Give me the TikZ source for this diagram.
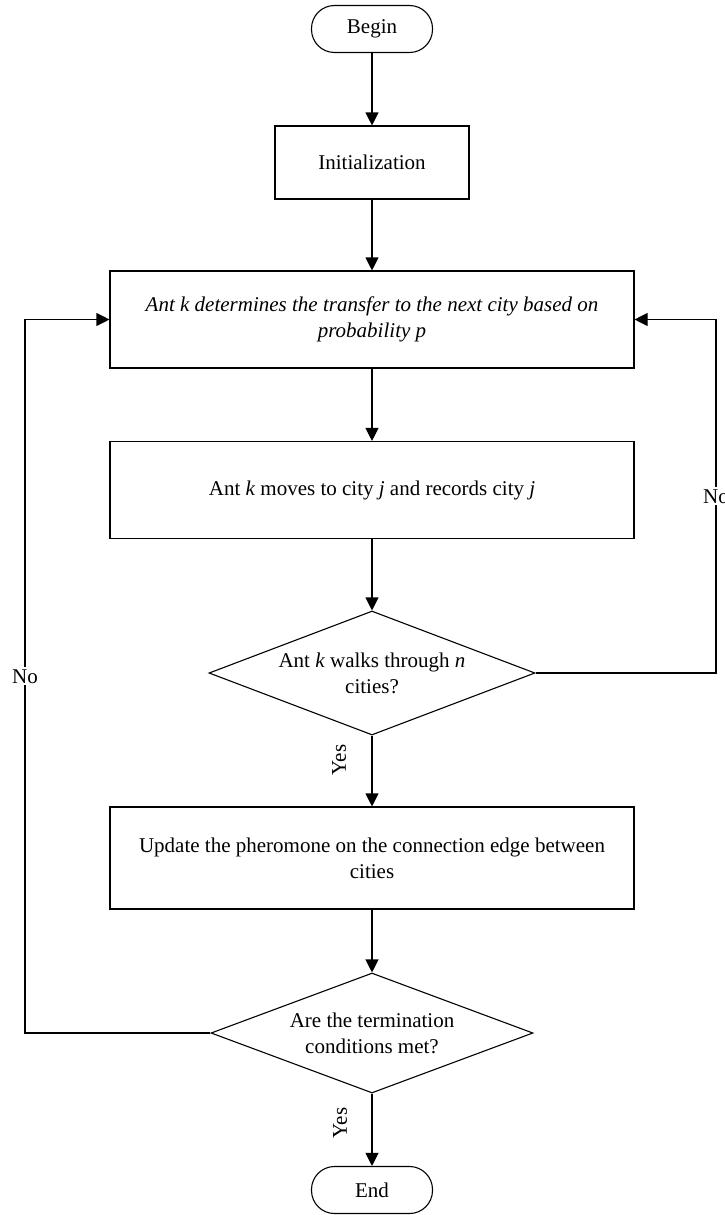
\documentclass[tikz,border=0pt]{standalone}
\usepackage{fontspec}
\setmainfont{Liberation Serif}
\usepackage{tikz}
\usetikzlibrary{shapes.geometric, arrows.meta}

\begin{document}
\begin{tikzpicture}[x=1pt, y=-1pt, line width=1.1pt,
        every node/.style = {font=\fontsize{21}{26}\selectfont, align=center},
        terminal/.style = {draw, rectangle, rounded corners=23pt, minimum width=121pt, minimum height=47pt},
        process/.style = {draw, rectangle, minimum width=524pt, minimum height=97pt},
        decision/.style = {draw, diamond, minimum width=326pt, minimum height=124pt, inner sep=0pt},
        flow/.style = {-{Triangle[length=13pt, width=13pt]}},
        answer/.style = {fill=white, inner sep=2pt}]
    \useasboundingbox (0,0) rectangle (725,1215);

    \node[terminal] (begin) at (372,29) {Begin};
    \node[draw, minimum width=194pt, minimum height=73pt] (init) at (372,162.5) {Initialization};
    \node[process] (choose) at (372,319.5) {\itshape Ant k determines the transfer to the next city based on\\\itshape probability p};
    \node[process] (move) at (372,490) {Ant \textit{k} moves to city \textit{j} and records city \textit{j}};
    \node[decision] (walked) at (372,673) {};
    \node (walkedtext) at (walked) {Ant \textit{k} walks through \textit{n}\\cities?};
    \node[process, minimum height=102pt] (update) at (372,858) {Update the pheromone on the connection edge between\\cities};
    \node[decision, minimum width=322pt, minimum height=120pt] (done) at (372,1033) {};
    \node (donetext) at (done) {Are the termination\\conditions met?};
    \node[terminal] (finish) at (372,1190) {End};

    \coordinate (leftrail) at (25,0);
    \coordinate (rightrail) at (716,0);

    \draw[flow] (begin) -- (init);
    \draw[flow] (init) -- (choose);
    \draw[flow] (choose) -- (move);
    \draw[flow] (move) -- (walked);
    \draw[flow] (walked) -- (update);
    \draw[flow] (update) -- (done);
    \draw[flow] (done) -- (finish);

    % back edges
    \draw[flow] (walked.east) -- (walked.east -| rightrail) -- node[answer] (noright) {No} (choose.east -| rightrail) -- (choose.east);
    \draw[flow] (done.west) -- (done.west -| leftrail) -- node[answer] (noleft) {No} (choose.west -| leftrail) -- (choose.west);

    \node[rotate=90] (yesupdate) at (339,760) {Yes};
    \node[rotate=90] (yesfinish) at (340,1123) {Yes};
\end{tikzpicture}
\end{document}
